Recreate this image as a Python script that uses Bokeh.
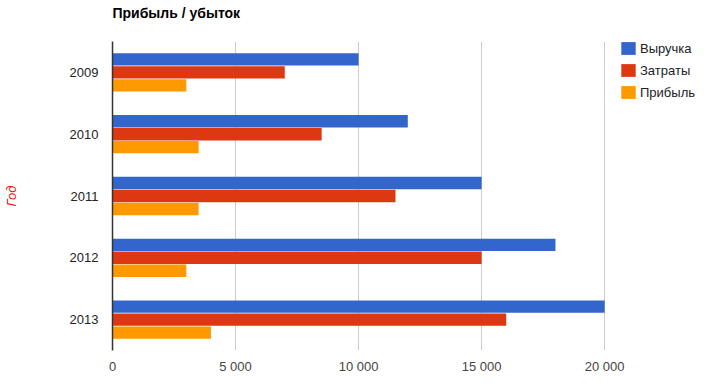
from bokeh.plotting import figure
from bokeh.models import ColumnDataSource, FactorRange, Range1d, Legend, LegendItem, FixedTicker
from bokeh.transform import dodge
from bokeh.embed import file_html
from bokeh.resources import INLINE

years = ["2009", "2010", "2011", "2012", "2013"]
revenue = [10000, 12000, 15000, 18000, 20000]
costs = [7000, 8500, 11500, 15000, 16000]
profit = [3000, 3500, 3500, 3000, 4000]
series_names = ["Выручка", "Затраты", "Прибыль"]
series_colors = ["#3366cc", "#dc3912", "#ff9900"]
x_ticks = [0, 5000, 10000, 15000, 20000]
x_tick_labels = ["0", "5 000", "10 000", "15 000", "20 000"]
title_text = "Прибыль / убыток"

src = ColumnDataSource(dict(year=years, revenue=revenue, costs=costs, profit=profit))

FONT = "Liberation Sans"

# frame spans 111..700 px; value axis 0..20000 occupies 111..604 px,
# the rest of the frame holds the legend
W, H = 700, 385
LEFT, TOP, BOTTOM = 111, 41, 35
frame_w = W - LEFT
x_end = 20000 * frame_w / 493.0

p = figure(width=W, height=H,
           y_range=FactorRange(factors=years[::-1]),
           x_range=Range1d(0, x_end),
           output_backend="svg", toolbar_location=None,
           title=title_text + "\n",
           min_border_left=LEFT, min_border_right=0,
           min_border_top=TOP, min_border_bottom=BOTTOM)

offsets = [0.21, 0.0, -0.21]
cols = ["revenue", "costs", "profit"]
renderers = []
for col, off, color in zip(cols, offsets, series_colors):
    r = p.hbar(y=dodge("year", off, range=p.y_range), left=0, right=col, height=0.2,
               source=src, fill_color=color, line_color=None)
    renderers.append(r)

legend = Legend(items=[LegendItem(label=n, renderers=[r]) for n, r in zip(series_names, renderers)],
                location=(507, 250), padding=0, margin=0,
                glyph_width=18, glyph_height=16, label_height=16, spacing=6,
                label_standoff=3, label_text_font=FONT, label_text_font_size="13px",
                label_text_color="#222222", background_fill_alpha=0, border_line_color=None)
p.add_layout(legend, "center")

p.outline_line_color = None
p.background_fill_color = "white"
p.ygrid.grid_line_color = None
p.xgrid.ticker = FixedTicker(ticks=x_ticks)
p.xgrid.grid_line_color = "#cccccc"

p.xaxis.ticker = FixedTicker(ticks=x_ticks)
p.xaxis.major_label_overrides = {t: l for t, l in zip(x_ticks, x_tick_labels)}
p.xaxis.axis_line_color = None
p.xaxis.major_tick_line_color = None
p.xaxis.major_tick_out = 0
p.xaxis.minor_tick_line_color = None
p.xaxis.major_label_text_font = FONT
p.xaxis.major_label_text_font_size = "13px"
p.xaxis.major_label_text_color = "#444444"
p.xaxis.major_label_standoff = 8

p.yaxis.axis_line_color = "#333333"
p.yaxis.axis_line_width = 1.5
p.yaxis.major_tick_line_color = None
p.yaxis.major_tick_out = 0
p.yaxis.minor_tick_line_color = None
p.yaxis.major_label_text_font = FONT
p.yaxis.major_label_text_font_size = "13px"
p.yaxis.major_label_text_color = "#222222"
p.yaxis.major_label_standoff = 14
p.yaxis.axis_label = "Год"
p.yaxis.axis_label_text_color = "#ff0000"
p.yaxis.axis_label_text_font = FONT
p.yaxis.axis_label_text_font_style = "italic"
p.yaxis.axis_label_text_font_size = "13px"
p.yaxis.axis_label_standoff = 48

p.title.text_font = FONT
p.title.text_font_size = "14px"
p.title.text_font_style = "bold"
p.title.text_color = "#000000"
p.title.vertical_align = "top"
p.title.standoff = 6

open("out.html", "w").write(file_html(p, INLINE))
